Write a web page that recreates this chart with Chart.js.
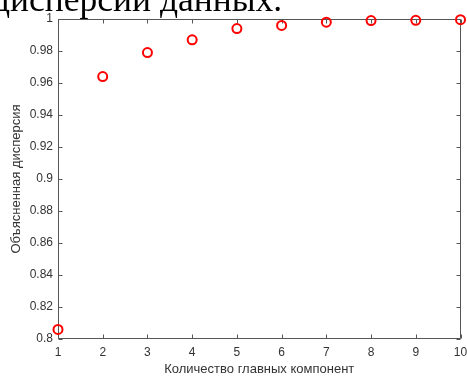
<!DOCTYPE html>
<html><head><meta charset="utf-8">
<script src="https://cdn.jsdelivr.net/npm/chart.js@4/dist/chart.umd.min.js"></script>
<style>
html,body{margin:0;padding:0;background:#fff;overflow:hidden}
#wrap{position:relative;width:467px;height:378px;overflow:hidden}
canvas{position:absolute;left:0;top:0}
#cap{position:absolute;left:-8px;top:-18px;font-family:"Liberation Serif","Times New Roman",serif;font-size:35.5px;line-height:1;color:#000;white-space:nowrap}
</style></head>
<body><div id="wrap"><canvas id="c" width="467" height="378"></canvas><div id="cap">дисперсии данных.</div></div>
<script>
const components = [1, 2, 3, 4, 5, 6, 7, 8, 9, 10];
const explained = [0.806, 0.964, 0.979, 0.987, 0.994, 0.996, 0.998, 0.999, 0.9992, 0.9996];
const xTicks = [1, 2, 3, 4, 5, 6, 7, 8, 9, 10];
const yTicks = [0.8, 0.82, 0.84, 0.86, 0.88, 0.9, 0.92, 0.94, 0.96, 0.98, 1];
const xTitle = 'Количество главных компонент';
const yTitle = 'Объясненная дисперсия';

const AX = '#555';
const TXT = '#333';
const FONT = '"Liberation Sans", Arial, sans-serif';

const frame = {
  id: 'frame',
  beforeDatasetsDraw(chart) {
    const {ctx, chartArea: a, scales: {x, y}} = chart;
    const L = Math.round(a.left) + 0.5, R = Math.round(a.right) - 0.5;
    const T = Math.round(a.top) + 0.5, B = Math.round(a.bottom) - 0.5;
    ctx.save();
    ctx.strokeStyle = AX;
    ctx.lineWidth = 1;
    ctx.beginPath();
    ctx.rect(L, T, R - L, B - T);
    const tl = 4;
    x.ticks.forEach(t => {
      const px = Math.round(x.getPixelForValue(t.value)) + 0.5;
      ctx.moveTo(px, B); ctx.lineTo(px, B - tl);
      ctx.moveTo(px, T); ctx.lineTo(px, T + tl);
    });
    y.ticks.forEach(t => {
      const py = Math.round(y.getPixelForValue(t.value)) + 0.5;
      ctx.moveTo(L, py); ctx.lineTo(L + tl, py);
      ctx.moveTo(R, py); ctx.lineTo(R - tl, py);
    });
    ctx.stroke();
    ctx.restore();
  }
};

new Chart(document.getElementById('c'), {
  type: 'scatter',
  data: {
    datasets: [{
      data: components.map((c, i) => ({x: c, y: explained[i]})),
      pointStyle: 'circle',
      pointRadius: 4.5,
      pointHoverRadius: 4.5,
      borderColor: '#ff0000',
      backgroundColor: 'rgba(0,0,0,0)',
      borderWidth: 2,
      pointBorderWidth: 2,
      clip: false
    }]
  },
  options: {
    responsive: false,
    animation: false,
    devicePixelRatio: 1,
    layout: {padding: {top: 19, right: 6, left: 0, bottom: 0}},
    plugins: {legend: {display: false}, tooltip: {enabled: false}},
    scales: {
      x: {
        type: 'linear', min: 1, max: 10,
        afterBuildTicks: s => { s.ticks = xTicks.map(v => ({value: v})); },
        afterFit: s => { s.height = 39; s.paddingLeft = 0; s.paddingRight = 0; },
        grid: {display: false, drawTicks: false},
        border: {display: false},
        ticks: {color: TXT, font: {family: FONT, size: 12}, padding: 6, maxRotation: 0, autoSkip: false,
                callback: v => String(v)},
        title: {display: true, text: xTitle, color: TXT, font: {family: FONT, size: 13}, padding: {top: 0, bottom: 1}}
      },
      y: {
        type: 'linear', min: 0.8, max: 1,
        afterBuildTicks: s => { s.ticks = yTicks.map(v => ({value: v})); },
        afterFit: s => { s.width = 58; s.paddingTop = 0; s.paddingBottom = 0; },
        grid: {display: false, drawTicks: false},
        border: {display: false},
        ticks: {color: TXT, font: {family: FONT, size: 12}, padding: 5, autoSkip: false,
                callback: v => String(+v.toFixed(2))},
        title: {display: true, text: yTitle, color: TXT, font: {family: FONT, size: 13}, padding: {top: 9, bottom: 0}}
      }
    }
  },
  plugins: [frame]
});
</script>
</body></html>
